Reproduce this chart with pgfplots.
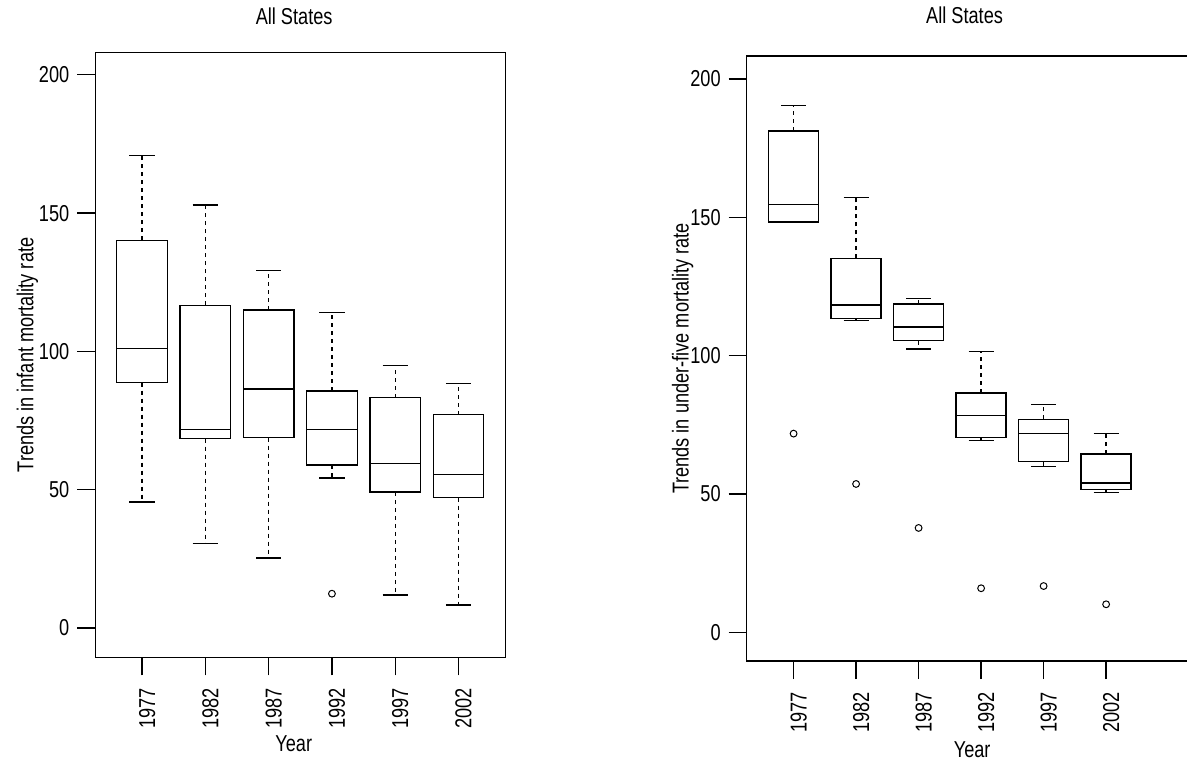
\documentclass[border=0pt]{standalone}
\usepackage{fontspec}
\setmainfont{Liberation Sans}[FakeStretch=0.79]
\usepackage{pgfplots}
\pgfplotsset{compat=1.18}
\usepgfplotslibrary{statistics}
\begin{document}
\fontsize{11.5pt}{13.5pt}\selectfont
\begin{tikzpicture}
\useasboundingbox (0,0) rectangle (593.5pt,-382pt);
\pgfplotsset{
  mybox/.style={
    scale only axis,
    axis line style={line width=0.65pt, black},
    tick style={line width=0.65pt, black},
    tick align=outside,
    major tick length=9pt,
    xtick pos=bottom, ytick pos=left,
    xtick={1,2,3,4,5,6},
    xticklabels={1977,1982,1987,1992,1997,2002},
    ytick={0,50,100,150,200},
    /pgf/number format/assume math mode=true,
    xticklabel style={xshift=2.5pt, yshift=-2.5pt, rotate=90, anchor=east},
    ylabel style={anchor=base},
    xlabel style={anchor=north, inner sep=0pt},
    every axis title shift=0pt,
    title style={anchor=base},
    boxplot/draw direction=y,
  },
  sbox/.style={
    black, line width=0.65pt, solid,
    boxplot/draw direction=y,
    boxplot/box extend=0.8,
    boxplot/whisker extend=0.4,
    boxplot/draw/lower whisker/.code={%
      \draw[dash pattern=on 2pt off 2pt] (boxplot cs:\pgfplotsboxplotvalue{lower quartile}) -- (boxplot cs:\pgfplotsboxplotvalue{lower whisker});
      \draw (boxplot whisker cs:\pgfplotsboxplotvalue{lower whisker},0) -- (boxplot whisker cs:\pgfplotsboxplotvalue{lower whisker},1);
    },
    boxplot/draw/upper whisker/.code={%
      \draw[dash pattern=on 2pt off 2pt] (boxplot cs:\pgfplotsboxplotvalue{upper quartile}) -- (boxplot cs:\pgfplotsboxplotvalue{upper whisker});
      \draw (boxplot whisker cs:\pgfplotsboxplotvalue{upper whisker},0) -- (boxplot whisker cs:\pgfplotsboxplotvalue{upper whisker},1);
    },
  },
  omark/.style={only marks, mark=o, mark size=1.7pt, black, line width=0.5pt},
}
% Left panel: infant mortality
\begin{axis}[mybox,
  at={(47.65pt,-328.65pt)}, anchor=south west,
  width=205pt, height=302.3pt,
  xmin=0.26, xmax=6.74, ymin=-10.6, ymax=208,
  title={All States},
  title style={at={(axis description cs:0.485,1)}, yshift=14.3pt},
  xlabel={Year},
  xlabel style={at={(axis description cs:0.484,0)}, yshift=-39pt},
  ylabel={Trends in infant mortality rate},
  ylabel style={at={(axis description cs:-0.151,0.5)}},
]
\addplot[sbox, boxplot prepared={draw position=1, lower whisker=45.6, lower quartile=88.7, median=101.1, upper quartile=140.2, upper whisker=170.9}] coordinates {};
\addplot[sbox, boxplot prepared={draw position=2, lower whisker=30.5, lower quartile=68.5, median=71.8, upper quartile=116.7, upper whisker=152.9}] coordinates {};
\addplot[sbox, boxplot prepared={draw position=3, lower whisker=25.3, lower quartile=68.8, median=86.4, upper quartile=115.0, upper whisker=129.2}] coordinates {};
\addplot[sbox, boxplot prepared={draw position=4, lower whisker=54.2, lower quartile=58.9, median=71.8, upper quartile=85.7, upper whisker=114.1}] coordinates {};
\addplot[sbox, boxplot prepared={draw position=5, lower whisker=11.9, lower quartile=49.2, median=59.5, upper quartile=83.3, upper whisker=94.8}] coordinates {};
\addplot[sbox, boxplot prepared={draw position=6, lower whisker=8.3, lower quartile=47.1, median=55.4, upper quartile=77.1, upper whisker=88.5}] coordinates {};
\addplot[omark] coordinates {(4,12.4)};
\end{axis}
% Right panel: under-five mortality
\begin{axis}[mybox,
  at={(373.35pt,-330.5pt)}, anchor=south west,
  width=221.9pt, height=302.5pt,
  xmin=0.25, xmax=7.35, ymin=-10.4, ymax=208.3,
  title={All States},
  title style={at={(axis description cs:0.491,1)}, yshift=16pt},
  xlabel={Year},
  xlabel style={at={(axis description cs:0.508,0)}, yshift=-40.3pt},
  ylabel={Trends in under-five mortality rate},
  ylabel style={at={(axis description cs:-0.131,0.5)}},
]
\addplot[sbox, boxplot prepared={draw position=1, lower whisker=148.3, lower quartile=148.3, median=154.7, upper quartile=181.2, upper whisker=190.3}] coordinates {};
\addplot[sbox, boxplot prepared={draw position=2, lower whisker=112.7, lower quartile=113.4, median=118.3, upper quartile=135.1, upper whisker=157.1}] coordinates {};
\addplot[sbox, boxplot prepared={draw position=3, lower whisker=102.4, lower quartile=105.4, median=110.3, upper quartile=118.7, upper whisker=120.6}] coordinates {};
\addplot[sbox, boxplot prepared={draw position=4, lower whisker=69.2, lower quartile=70.5, median=78.3, upper quartile=86.5, upper whisker=101.6}] coordinates {};
\addplot[sbox, boxplot prepared={draw position=5, lower whisker=60.0, lower quartile=61.6, median=71.9, upper quartile=77.0, upper whisker=82.3}] coordinates {};
\addplot[sbox, boxplot prepared={draw position=6, lower whisker=50.5, lower quartile=51.7, median=54.0, upper quartile=64.4, upper whisker=71.9}] coordinates {};
\addplot[omark] coordinates {(1,71.8) (2,53.6) (3,37.7) (4,15.9) (5,16.7) (6,10.1)};
\end{axis}
\end{tikzpicture}
\end{document}
